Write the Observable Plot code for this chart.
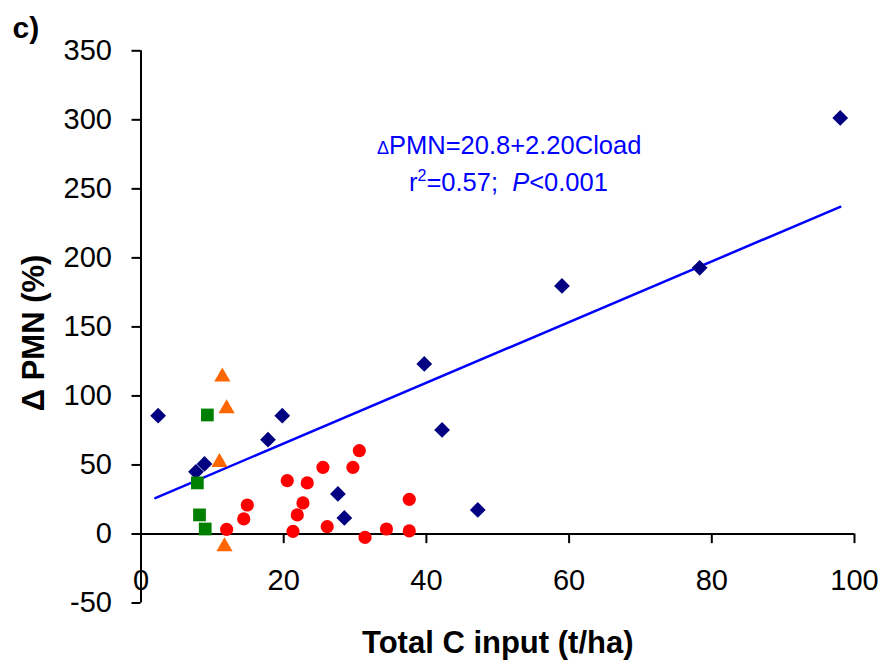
<!DOCTYPE html>
<html><head><meta charset="utf-8">
<script src="https://cdn.jsdelivr.net/npm/d3@7"></script>
<script src="https://cdn.jsdelivr.net/npm/@observablehq/plot@0.6"></script>
<style>body{margin:0;background:#fff}</style>
</head><body><div id="chart"></div>
<script>
// Series
const diamondX = [2.4, 7.7, 8.9, 17.8, 19.8, 27.6, 28.5, 39.7, 42.2, 47.2, 59.0, 78.3, 98.0];
const diamondY = [85.7, 45.0, 50.7, 68.3, 85.7, 29.0, 11.6, 123.2, 75.4, 17.4, 179.7, 192.8, 301.4];
const squareX = [7.9, 8.2, 9.0, 9.3];
const squareY = [37.0, 13.8, 3.6, 86.2];
const triangleX = [11.4, 12.0, 11.0, 11.7];
const triangleY = [113.8, 90.8, 51.9, -9.2];
const circleX = [12.0, 14.4, 14.9, 20.5, 21.3, 21.9, 22.7, 23.3, 25.5, 26.1, 29.7, 30.6, 31.4, 34.4, 37.6, 37.6];
const circleY = [3.3, 10.9, 21.0, 38.6, 1.9, 13.8, 22.5, 37.0, 48.3, 5.3, 48.3, 60.4, -2.5, 3.6, 2.2, 25.1];
// Regression line ends (as drawn)
const fitX = [2.0, 98.0];
const fitY = [26.0, 237.0];
// Ticks
const xTicks = [0, 20, 40, 60, 80, 100];
const yTicks = [-50, 0, 50, 100, 150, 200, 250, 300, 350];
// Texts
const panelLabel = "c)";
const xLabel = "Total C input (t/ha)";
const yLabel = "\u0394 PMN (%)";
const eqLines = ["\u0394PMN=20.8+2.20Cload", "r2=0.57; P<0.001"];
const eqX = [51.6, 51.5];
const eqY = [275.6, 248.8];

const pts = (xs, ys) => xs.map((x, i) => ({x, y: ys[i]}));
const font = "'Liberation Sans', Arial, sans-serif";

const chart = Plot.plot({
  width: 884, height: 662,
  marginLeft: 140.5, marginRight: 30, marginTop: 50.3, marginBottom: 59.5,
  style: {fontFamily: font, color: "black", background: "white"},
  x: {domain: [0, 100], axis: null},
  y: {domain: [-50, 350], axis: null},
  marks: [
    Plot.axisY({ticks: yTicks, tickSize: 9, tickPadding: 20, fontSize: 29, tickFormat: d => String(d), label: null, strokeWidth: 2}),
    Plot.ruleX([0], {stroke: "black", strokeWidth: 2}),
    Plot.ruleY([0], {stroke: "black", strokeWidth: 2}),
    Plot.ruleX(xTicks, {x: d => d, y1: 0, y2: -7, stroke: "black", strokeWidth: 2}),
    Plot.text(xTicks, {x: d => d, y: 0, dy: 47, text: d => String(d), fontSize: 29, lineAnchor: "middle"}),
    Plot.line(pts(fitX, fitY), {x: "x", y: "y", stroke: "#0000FF", strokeWidth: 2.5}),
    Plot.dot(pts(diamondX, diamondY), {x: "x", y: "y", symbol: "diamond2", r: 7.1, fill: "#000080"}),
    Plot.dot(pts(squareX, squareY), {x: "x", y: "y", symbol: "square", r: 7.2, fill: "#008000"}),
    Plot.dot(pts(triangleX, triangleY), {x: "x", y: "y", symbol: "triangle", r: 6.0, fill: "#FF6600"}),
    Plot.dot(pts(circleX, circleY), {x: "x", y: "y", r: 6.6, fill: "#FF0000"}),
    Plot.text(eqLines.map((t, i) => ({t, x: eqX[i], y: eqY[i]})), {x: "x", y: "y", text: "t", fontSize: 25.5, fill: "#0000FF", lineAnchor: "bottom"}),
    Plot.text([yLabel], {frameAnchor: "left", rotate: -90, dx: -97.5, dy: 6, fontSize: 31, fontWeight: "bold", textAnchor: "middle", lineAnchor: "bottom"}),
    Plot.text([xLabel], {frameAnchor: "bottom", dy: 50, fontSize: 31, fontWeight: "bold", textAnchor: "middle", lineAnchor: "bottom"}),
    Plot.text([panelLabel], {frameAnchor: "top-left", dx: -128.5, dy: -13, fontSize: 30, fontWeight: "bold", textAnchor: "start", lineAnchor: "bottom"})
  ]
});
document.getElementById("chart").append(chart);

// rich formatting of the equation texts
const svg = d3.select(chart);
svg.selectAll("text").each(function() {
  const el = d3.select(this);
  const t = this.textContent;
  if (t === eqLines[0]) {
    el.text(null);
    el.append("tspan").attr("font-size", 18).text("\u0394");
    el.append("tspan").text("PMN=20.8+2.20Cload");
  } else if (t === eqLines[1]) {
    el.text(null);
    el.append("tspan").text("r");
    el.append("tspan").attr("font-size", 16).attr("dy", -10).text("2");
    el.append("tspan").attr("dy", 10).text("=0.57;\u00a0 ");
    el.append("tspan").attr("font-style", "italic").text("P");
    el.append("tspan").text("<0.001");
  }
});
</script>
</body></html>
